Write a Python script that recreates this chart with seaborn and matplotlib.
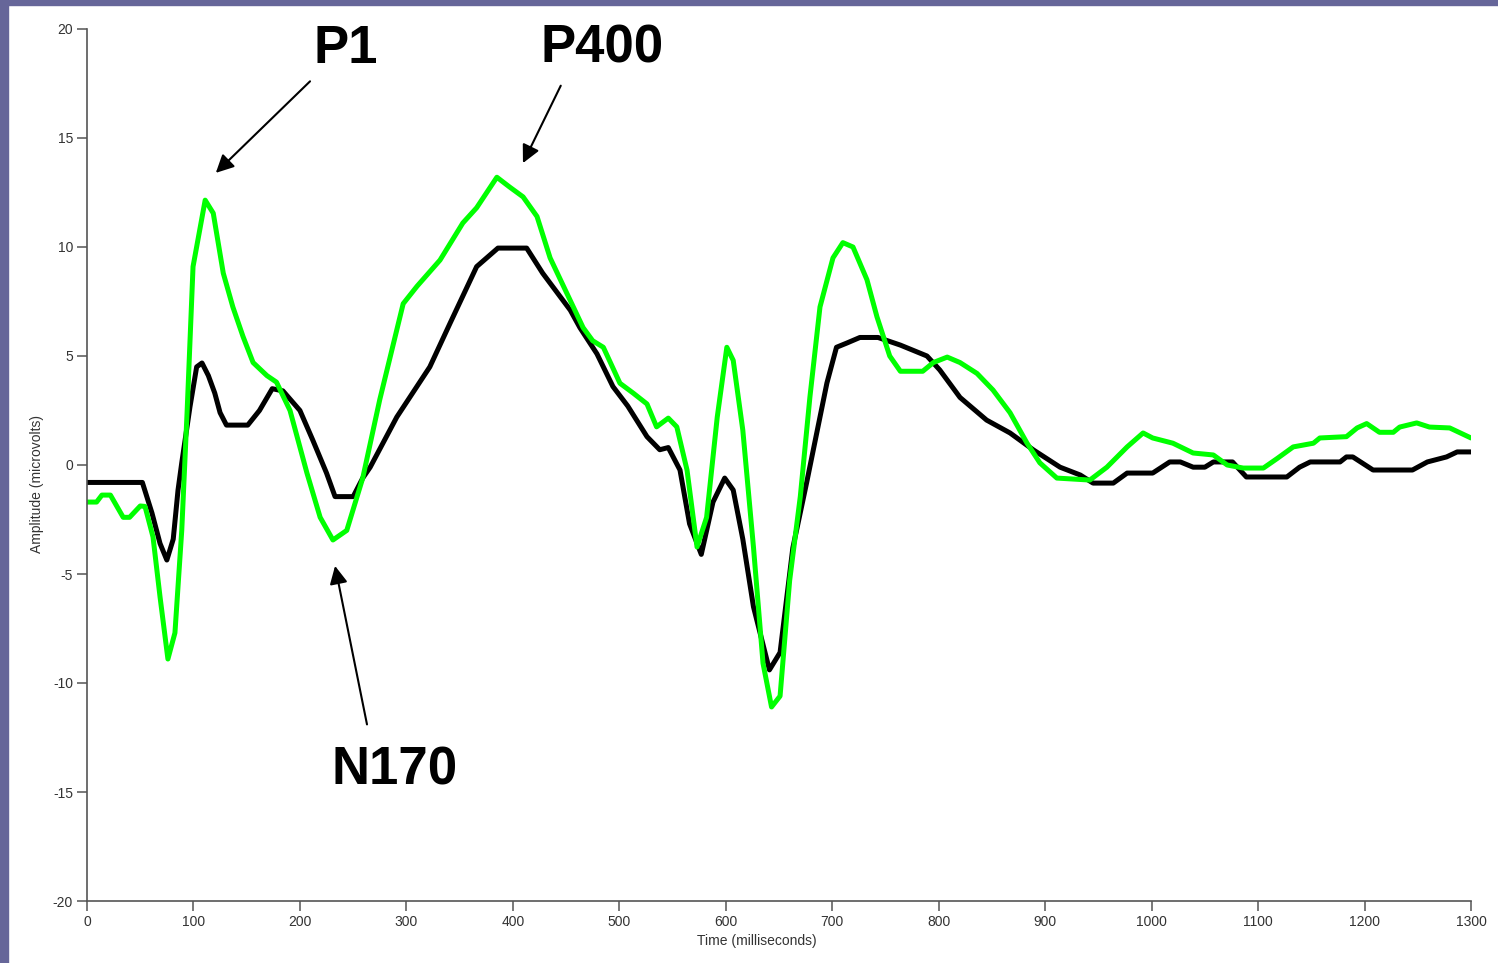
import numpy as np
import pandas as pd
import seaborn as sns
import matplotlib.pyplot as plt
from matplotlib.patches import Rectangle

# ERP waveforms (time in ms, amplitude in microvolts)
black_t = [0, 52, 61, 68.6, 75, 81, 85.5, 89, 96.7, 103, 108, 114, 120, 125, 131, 151, 162, 174, 184,
           200, 212, 225, 233, 250, 259, 266, 291, 322, 341, 366, 386, 413, 428, 454, 463, 479, 494,
           508, 526, 538, 546, 557, 566, 577, 588, 599, 607, 616, 626, 641, 651, 663, 676, 695, 704,
           714, 726, 743, 764, 789, 801, 820, 845, 867, 889, 914, 933, 945, 964, 977, 1001, 1017,
           1027, 1039, 1050, 1058, 1076, 1089, 1127, 1139, 1149, 1177, 1183, 1189, 1208, 1245, 1259,
           1277, 1287, 1300]
black_v = [-0.8, -0.8, -2.2, -3.6, -4.36, -3.4, -1.15, 0.1, 2.66, 4.5, 4.68, 4.1, 3.3, 2.4, 1.83, 1.83,
           2.5, 3.5, 3.4, 2.5, 1.15, -0.37, -1.45, -1.45, -0.6, -0.1, 2.2, 4.5, 6.5, 9.1, 9.95, 9.95,
           8.8, 7.1, 6.3, 5.1, 3.6, 2.7, 1.3, 0.7, 0.8, -0.23, -2.7, -4.1, -1.7, -0.6, -1.15, -3.4,
           -6.5, -9.4, -8.6, -3.8, -0.8, 3.76, 5.4, 5.6, 5.85, 5.85, 5.5, 5.0, 4.36, 3.1, 2.06, 1.47,
           0.69, -0.1, -0.46, -0.83, -0.83, -0.37, -0.37, 0.14, 0.14, -0.1, -0.1, 0.14, 0.14, -0.55,
           -0.55, -0.1, 0.14, 0.14, 0.37, 0.37, -0.23, -0.23, 0.14, 0.37, 0.6, 0.6]

green_t = [0, 9, 14, 22, 34, 40, 50, 54.5, 62, 68.6, 76, 82.6, 89, 94, 99.6, 111, 118.6, 128, 137,
           146.5, 156, 169, 178, 190.7, 206.6, 219, 231, 244, 259, 275, 297, 310, 331.6, 353, 366,
           385, 397, 409.6, 422.7, 435, 453.7, 466, 475, 485, 500.6, 513, 526, 535, 546, 554, 563.6,
           573, 582, 592, 601, 607, 616, 626, 635, 643, 651, 660, 670, 679, 688.5, 700.7, 710,
           719.5, 732.6, 742, 754, 764, 785, 795, 808, 820, 836, 851, 867, 883, 895, 911, 942, 958,
           977, 992, 1001, 1020, 1039, 1058, 1071, 1086, 1105, 1118, 1133, 1152, 1158, 1183, 1193,
           1202, 1214, 1227, 1233, 1249, 1261, 1280, 1290, 1300]
green_v = [-1.7, -1.7, -1.38, -1.38, -2.4, -2.4, -1.88, -1.9, -3.3, -6.05, -8.9, -7.7, -3.0, 2.4, 9.1,
           12.15, 11.55, 8.8, 7.25, 5.9, 4.7, 4.1, 3.8, 2.5, -0.37, -2.4, -3.44, -3.0, -0.6, 3.0,
           7.4, 8.2, 9.4, 11.1, 11.8, 13.2, 12.75, 12.3, 11.4, 9.5, 7.57, 6.3, 5.7, 5.4, 3.75, 3.3,
           2.8, 1.75, 2.15, 1.75, -0.23, -3.76, -2.4, 2.2, 5.4, 4.8, 1.6, -3.76, -9.1, -11.1, -10.6,
           -5.3, -1.45, 3.1, 7.25, 9.5, 10.2, 10.0, 8.5, 6.8, 5.0, 4.3, 4.3, 4.7, 4.95, 4.7, 4.2,
           3.44, 2.4, 1.0, 0.1, -0.6, -0.69, -0.1, 0.83, 1.47, 1.24, 1.0, 0.55, 0.46, 0.0, -0.14,
           -0.14, 0.3, 0.83, 1.0, 1.24, 1.3, 1.7, 1.9, 1.5, 1.5, 1.74, 1.93, 1.74, 1.7, 1.47, 1.24]

# component labels: (text, text pos, arrow tail, arrow tip)
labels = [
    ("P1", (243, 19.1), (209.5, 17.6), (121, 13.4)),
    ("P400", (484, 19.1), (445, 17.4), (409.5, 13.85)),
    ("N170", (289, -14.0), (263, -11.9), (233, -4.63)),
]

sns.set_style("white")
plt.rcParams['font.family'] = ['Liberation Sans', 'DejaVu Sans']
plt.rcParams['axes.unicode_minus'] = False

fig = plt.figure(figsize=(14.98, 9.63), dpi=100)
ax = fig.add_axes([87 / 1498, 1 - 901 / 963, 1384 / 1498, 872 / 963])

sns.lineplot(x=black_t, y=black_v, color='black', lw=3.6, estimator=None, ax=ax)
sns.lineplot(x=green_t, y=green_v, color='#00ff00', lw=3.6, estimator=None, ax=ax)

for txt, tpos, tail, tip in labels:
    ax.annotate('', xy=tip, xytext=tail,
                arrowprops=dict(arrowstyle='-|>', mutation_scale=27, lw=1.5, color='black',
                                shrinkA=0, shrinkB=0))
    ax.text(tpos[0], tpos[1], txt, fontsize=38, fontweight='bold', color='black',
            ha='center', va='center')

ax.set_xlim(0, 1300)
ax.set_ylim(-20, 20)
ax.set_xticks(np.arange(0, 1301, 100))
ax.set_yticks(np.arange(-20, 21, 5))
for s in ['top', 'right']:
    ax.spines[s].set_visible(False)
for s in ['left', 'bottom']:
    ax.spines[s].set_color('#555555')
    ax.spines[s].set_linewidth(1.2)
ax.tick_params(direction='out', length=7, width=1.1, color='#555555', labelsize=10,
               labelcolor='#333333', pad=3, left=True, bottom=True)

ax.set_xlabel('Time (milliseconds)', fontsize=10, color='#333333')
ax.set_ylabel('Amplitude (microvolts)', fontsize=10, color='#333333')
ax.xaxis.set_label_coords(0.484, -0.0378)
ax.yaxis.set_label_coords(-0.031, 0.478)

# purple slide frame
fig.patches.append(Rectangle((0, 1 - 5 / 963), 1, 5 / 963, transform=fig.transFigure,
                             color='#666699', zorder=10))
fig.patches.append(Rectangle((0, 0), 8 / 1498, 1, transform=fig.transFigure,
                             color='#666699', zorder=10))

fig.savefig('out.png', dpi=100)
